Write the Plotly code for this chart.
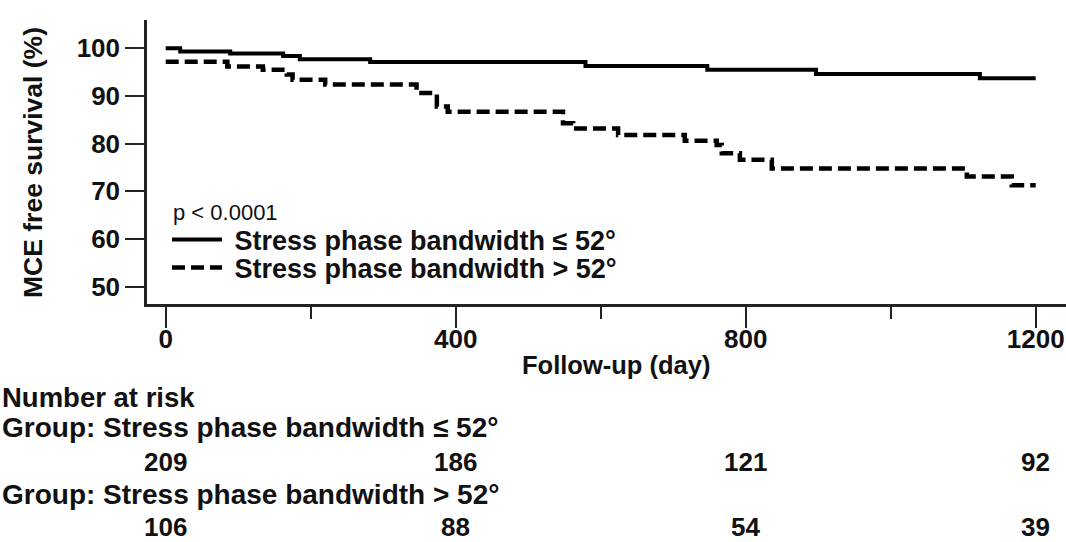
import plotly.graph_objects as go

# ---------------- data ----------------
solid_days = [0, 20, 89, 162, 185, 282, 579, 747, 897, 1123, 1200]
solid_surv = [100, 99.3, 98.9, 98.4, 97.7, 97.1, 96.3, 95.5, 94.6, 93.7, 93.7]

dash_days = [0, 85, 134, 167, 175, 220, 346, 374, 389, 548, 562, 624, 716, 760, 767, 792, 836, 1105, 1167, 1200]
dash_surv = [97.2, 96.2, 95.5, 94.5, 93.4, 92.4, 90.6, 87.8, 86.7, 84.3, 83.2, 81.8, 80.6, 79.7, 78.0, 76.6, 74.8, 73.1, 71.3, 71.3]

series_names = ["Stress phase bandwidth \u2264 52\u00b0", "Stress phase bandwidth > 52\u00b0"]
group_labels = ["Group: Stress phase bandwidth \u2264 52\u00b0", "Group: Stress phase bandwidth > 52\u00b0"]
risk_times = [0, 400, 800, 1200]
risk_low = [209, 186, 121, 92]
risk_high = [106, 88, 54, 39]
x_ticks = [0, 400, 800, 1200]
y_ticks = [50, 60, 70, 80, 90, 100]
p_text = "p < 0.0001"

# ---------------- layout constants ----------------
W, H = 1066, 542
ML, MR, MT, MB = 147, 0, 20, 238
PW, PH = W - ML - MR, H - MT - MB
FONT = "Liberation Sans, Arial, sans-serif"
INK = "#111111"


def px(xp):
    return (xp - ML) / PW


def py(yp):
    return (H - MB - yp) / PH


def bold(size):
    return dict(size=size, family=FONT, color=INK, weight="bold")


fig = go.Figure()
fig.add_trace(go.Scatter(
    x=solid_days, y=solid_surv, mode="lines", line_shape="hv",
    line=dict(color="black", width=4), name="\u00a0" + series_names[0], legend="legend"))
fig.add_trace(go.Scatter(
    x=dash_days, y=dash_surv, mode="lines", line_shape="hv",
    line=dict(color="black", width=4.5, dash="13px,6px"), name="\u00a0" + series_names[1], legend="legend2"))

annotations = []
annotations.append(dict(text="MCE free survival (%)", textangle=-90, xref="paper", yref="paper",
                        x=px(33), y=py(163), xanchor="center", yanchor="middle", showarrow=False,
                        font=bold(26.5)))
annotations.append(dict(text=p_text, xref="paper", yref="paper", x=px(171), y=py(212),
                        xanchor="left", yanchor="middle", showarrow=False,
                        font=dict(size=22, family=FONT, color=INK)))
annotations.append(dict(text="Follow-up (day)", xref="paper", yref="paper", x=px(616), y=py(365),
                        xanchor="center", yanchor="middle", showarrow=False, font=bold(25.5)))
annotations.append(dict(text="Number at risk", xref="paper", yref="paper", x=px(0), y=py(397),
                        xanchor="left", yanchor="middle", showarrow=False, font=bold(27.5)))
for lab, ypix in zip(group_labels, [428, 495]):
    annotations.append(dict(text=lab, xref="paper", yref="paper", x=px(0), y=py(ypix),
                            xanchor="left", yanchor="middle", showarrow=False, font=bold(28)))
for vals, ypix in zip([risk_low, risk_high], [462, 527]):
    for t, v in zip(risk_times, vals):
        annotations.append(dict(text=str(v), xref="x", yref="paper", x=t, y=py(ypix),
                                xanchor="center", yanchor="middle", showarrow=False, font=bold(26)))

legend_common = dict(font=bold(27), bgcolor="rgba(0,0,0,0)", xanchor="left", yanchor="middle",
                     itemwidth=50, borderwidth=0)

fig.update_layout(
    width=W, height=H,
    margin=dict(l=ML, r=MR, t=MT, b=MB, pad=0),
    paper_bgcolor="white", plot_bgcolor="white",
    font=dict(family=FONT, color=INK),
    showlegend=True,
    legend=dict(x=px(167), y=py(240), **legend_common),
    legend2=dict(x=px(167), y=py(268), **legend_common),
    xaxis=dict(range=[-25.8, 1241.8], tickvals=x_ticks, ticktext=[str(v) for v in x_ticks],
               showgrid=False, zeroline=False, showline=True, linecolor="#222", linewidth=2.5,
               ticks="outside", ticklen=21, tickwidth=2, tickcolor="#222",
               ticklabelstandoff=-11,
               minor=dict(dtick=200, tick0=0, ticks="outside", ticklen=12, tickwidth=2,
                          tickcolor="#222", showgrid=False),
               tickfont=bold(26)),
    yaxis=dict(range=[46.37, 105.93], tickvals=y_ticks, showgrid=False, zeroline=False,
               showline=True, linecolor="#222", linewidth=2.5,
               ticks="outside", ticklen=19, tickwidth=2, tickcolor="#222",
               tickfont=bold(26)),
    annotations=annotations,
)

fig.write_html("out.html")
